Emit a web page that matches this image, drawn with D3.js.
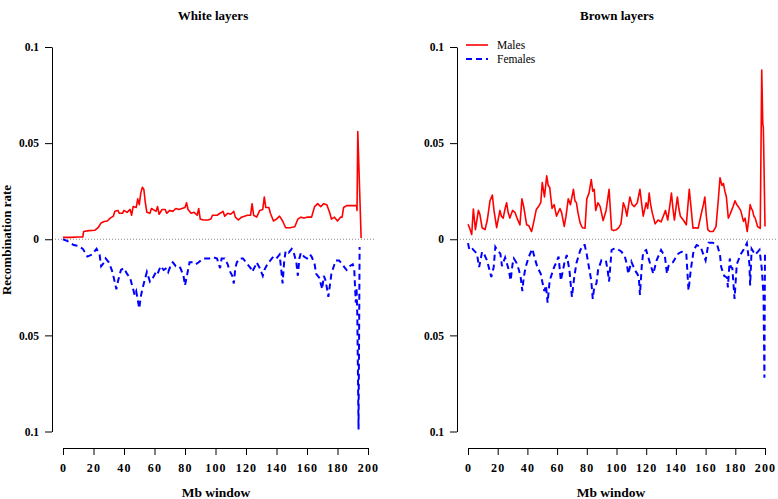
<!DOCTYPE html>
<html>
<head>
<meta charset="utf-8">
<script src="https://cdn.jsdelivr.net/npm/d3@7"></script>
<style>
  html, body { margin: 0; padding: 0; background: #fff; }
  svg { display: block; }
  text { font-family: "Liberation Serif", "DejaVu Serif", serif; }
</style>
</head>
<body>
<svg id="chart" width="778" height="499"></svg>
<script>
// ---- Data: [Mb window, recombination rate] ----
const panelTitles = ["White layers", "Brown layers"];
const seriesNames = ["Males", "Females"];
const xTicks = [0, 20, 40, 60, 80, 100, 120, 140, 160, 180, 200];
const yTicks = [-0.1, -0.05, 0, 0.05, 0.1];

const whiteMales = [
  [0,0.001],[5,0.001],[10,0.0012],[13,0.0012],[13.5,0.004],[17,0.0045],[21,0.0047],[23,0.006],[25,0.0085],[27,0.0092],
  [29,0.0095],[31,0.011],[33,0.012],[34,0.0146],[36,0.015],[37,0.0135],[39,0.0135],[40,0.015],[42,0.014],[44,0.0155],
  [45,0.0125],[46,0.017],[48,0.0165],[49,0.021],[50,0.018],[51,0.024],[52,0.027],[53,0.026],[54,0.019],[55,0.014],
  [57,0.0135],[58,0.016],[60,0.015],[61,0.0145],[62,0.017],[63,0.013],[65,0.0155],[67,0.0155],[68,0.0135],[70,0.015],
  [72,0.0145],[74,0.016],[76,0.0155],[78,0.016],[80,0.0165],[81,0.019],[82,0.0155],[84,0.0135],[86,0.014],[88,0.0125],
  [89,0.016],[90,0.0105],[92,0.010],[95,0.010],[97,0.0105],[98,0.0125],[101,0.0125],[103,0.0135],[105,0.0145],[106,0.012],
  [108,0.0135],[110,0.013],[112,0.0145],[113,0.0115],[115,0.010],[117,0.0115],[119,0.012],[121,0.0125],[123,0.0125],[124,0.0185],
  [125,0.0125],[127,0.0115],[129,0.015],[131,0.0155],[132,0.022],[133,0.0165],[135,0.0165],[136,0.0135],[138,0.0095],[140,0.0105],
  [142,0.012],[144,0.0095],[146,0.006],[149,0.006],[152,0.0065],[154,0.0105],[156,0.0115],[158,0.011],[160,0.0115],[163,0.0115],
  [165,0.017],[167,0.0185],[169,0.017],[171,0.0185],[173,0.018],[175,0.0135],[176,0.0105],[178,0.0115],[180,0.0095],[182,0.0115],
  [183,0.0115],[184,0.0165],[186,0.0175],[189,0.0175],[192.5,0.0175],[192.8,0.015],[193.3,0.056],[195.5,0.0007]
];

const whiteFemales = [
  [0,0],[3,0.001],[7,0.003],[10,0.0035],[13,0.005],[16,0.009],[19,0.008],[22,0.005],[24,0.008],[25,0.014],
  [27,0.012],[28,0.010],[30,0.012],[32,0.016],[33,0.019],[35,0.026],[36,0.022],[38,0.016],[40,0.015],[42,0.018],
  [44,0.020],[45,0.023],[47,0.029],[48,0.027],[50,0.036],[51,0.030],[52,0.026],[54,0.020],[55,0.017],[57,0.022],
  [59,0.020],[61,0.017],[62,0.018],[64,0.014],[66,0.016],[68,0.015],[69,0.017],[71,0.013],[72,0.012],[74,0.014],
  [76,0.014],[77,0.015],[79,0.019],[80,0.024],[81,0.020],[83,0.012],[85,0.012],[87,0.013],[89,0.012],[91,0.0105],
  [93,0.010],[96,0.010],[99,0.0095],[101,0.010],[103,0.015],[104,0.010],[106,0.010],[108,0.013],[109,0.016],[111,0.019],
  [112,0.023],[113,0.015],[114,0.012],[116,0.010],[118,0.010],[120,0.012],[121,0.013],[123,0.015],[124,0.017],[126,0.014],
  [127,0.012],[129,0.015],[131,0.019],[132,0.016],[134,0.013],[135,0.012],[137,0.010],[138,0.009],[140,0.010],[142,0.008],
  [143,0.015],[144,0.023],[145,0.012],[146,0.006],[148,0.007],[150,0.005],[151,0.006],[153,0.012],[154,0.019],[155,0.010],
  [156,0.007],[158,0.009],[160,0.010],[162,0.008],[163,0.009],[165,0.013],[166,0.018],[168,0.020],[170,0.026],[171,0.019],
  [172,0.021],[173,0.025],[174,0.030],[175,0.024],[176,0.018],[178,0.013],[179,0.011],[181,0.011],[183,0.013],[185,0.015],
  [186,0.016],[188,0.014],[190,0.013],[191,0.016],[192,0.033],[192.5,0.025],[193,0.040],[193.8,0.099],[194.5,0.004]
];

const brownMales = [
  [0,0.0078],[1,0.006],[2.5,0.0025],[3.6,0.0157],[5,0.005],[7,0.015],[8,0.013],[9.5,0.006],[11.5,0.005],[13,0.010],
  [14.8,0.020],[16.4,0.023],[17.5,0.015],[19.3,0.006],[21.5,0.015],[22.5,0.012],[23.7,0.011],[25,0.016],[26,0.019],[27,0.014],
  [28.2,0.011],[30,0.015],[31.6,0.014],[33,0.011],[35,0.0075],[36.3,0.021],[37.5,0.017],[39.5,0.0075],[41,0.007],[42.8,0.004],
  [44,0.008],[46,0.0155],[47.5,0.017],[49,0.019],[50,0.0295],[51.5,0.022],[53,0.033],[54,0.028],[55,0.027],[56.6,0.016],
  [58,0.018],[59.6,0.012],[61.9,0.016],[63,0.014],[64.8,0.0067],[66,0.012],[67.5,0.021],[69,0.018],[71,0.026],[72,0.020],
  [73,0.019],[74,0.014],[75.5,0.0085],[77,0.006],[78.8,0.0058],[80,0.021],[81.5,0.024],[83,0.031],[84,0.025],[85,0.026],
  [86,0.015],[87.5,0.019],[89,0.017],[91,0.0097],[93,0.015],[95,0.026],[96.7,0.005],[98,0.0045],[100,0.005],[101.5,0.006],
  [103,0.008],[104.6,0.019],[106,0.016],[107,0.012],[109,0.022],[110.5,0.018],[112,0.017],[114,0.019],[115.8,0.026],[117,0.018],
  [118,0.012],[120,0.019],[121,0.016],[122,0.024],[123,0.018],[124,0.014],[126,0.008],[128,0.010],[130,0.009],[131.5,0.012],
  [133,0.015],[134.5,0.010],[136,0.018],[137,0.024],[138,0.016],[139,0.010],[141,0.022],[142,0.016],[143,0.012],[145,0.010],
  [147,0.0075],[149,0.026],[150,0.018],[151.5,0.0058],[153,0.006],[155,0.0058],[157,0.013],[158.5,0.018],[159.5,0.022],[160.5,0.012],
  [161.5,0.005],[163,0.004],[165,0.004],[167,0.0066],[168.5,0.020],[169.7,0.032],[171,0.028],[172,0.029],[173,0.025],[174,0.022],
  [175.3,0.011],[176.5,0.013],[177.5,0.015],[178.5,0.017],[179.8,0.020],[181,0.018],[182,0.017],[183.6,0.015],[185.5,0.0093],[186.6,0.011],
  [188,0.004],[189,0.010],[190,0.018],[190.8,0.016],[191.6,0.015],[192.5,0.012],[193.4,0.011],[195,0.0066],[196.8,0.0057],[197.8,0.088],
  [198.5,0.060],[198.9,0.058],[200,0.0066]
];

const brownFemales = [
  [0,0.002],[1,0.0057],[3,0.005],[6,0.0075],[7.5,0.0145],[9.5,0.0065],[11,0.008],[12.8,0.011],[15.7,0.0196],[17.3,0.0145],
  [18.4,0.004],[20,0.006],[21.8,0.0075],[22.9,0.014],[25,0.0095],[27.5,0.016],[28.7,0.0215],[30,0.013],[30.9,0.010],[32.5,0.012],
  [34.3,0.016],[35.5,0.020],[36.6,0.027],[37.5,0.020],[38.8,0.0145],[41,0.009],[43.3,0.005],[45,0.010],[46.7,0.0145],[49,0.018],
  [50,0.022],[51.4,0.027],[52.5,0.024],[53.6,0.033],[55,0.0215],[56.5,0.018],[58,0.0145],[59.5,0.012],[61,0.009],[62.5,0.0215],
  [64,0.016],[65,0.012],[66.5,0.0082],[68.3,0.016],[69,0.022],[70,0.030],[71.5,0.020],[73,0.0125],[75.6,0.0057],[77.5,0.003],
  [78.6,0.003],[80,0.008],[81,0.0126],[83,0.0215],[84,0.031],[85,0.025],[86.5,0.023],[87.6,0.016],[89.8,0.011],[91.5,0.012],
  [93,0.0117],[94,0.016],[95,0.022],[96.7,0.0056],[98,0.005],[100,0.0047],[103.4,0.0065],[105.6,0.009],[107,0.013],[107.9,0.018],
  [110,0.0117],[112.3,0.016],[114,0.018],[115,0.0196],[115.8,0.029],[117,0.014],[118,0.0065],[120,0.0056],[122.6,0.0126],[124.8,0.018],
  [126,0.014],[127,0.011],[130,0.0056],[132.6,0.009],[134,0.018],[135,0.014],[136.5,0.0126],[138,0.012],[139.5,0.010],[141.6,0.0075],
  [143.8,0.0065],[145.5,0.007],[147,0.0075],[148.5,0.0267],[150,0.016],[152,0.0056],[154,0.003],[156.7,0.004],[158.5,0.008],[160,0.011],
  [162,0.0018],[164.8,0.0018],[167.8,0.003],[169.7,0.008],[170.5,0.0145],[172.5,0.019],[174.5,0.020],[175,0.025],[176.3,0.010],[177,0.0145],
  [178,0.015],[179.5,0.031],[181,0.013],[183.5,0.008],[185.5,0.0055],[187.8,0.002],[189.5,0.013],[190,0.024],[191,0.005],[193.4,0.008],
  [196.3,0.0055],[197.8,0.015],[199,0.029],[199.6,0.072],[200,0.006]
];

// ---- Layout ----
const svg = d3.select("#chart");
const FONT = '"Liberation Serif", "DejaVu Serif", serif';
const panels = [
  { title: panelTitles[0], males: whiteMales, females: whiteFemales,
    axisX: 52, x0: 63, x1: 368, lineEnd: 375, titleX: 213, labelX: 216, legend: false },
  { title: panelTitles[1], males: brownMales, females: brownFemales,
    axisX: 457, x0: 468, x1: 765, lineEnd: 778, titleX: 617, labelX: 611, legend: true }
];
const yTop = 47, yBottom = 431.5, xAxisY = 448;

panels.forEach(p => {
  const x = d3.scaleLinear().domain([0, 200]).range([p.x0, p.x1]);
  const y = d3.scaleLinear().domain([-0.1, 0.1]).range([yBottom, yTop]);
  const g = svg.append("g");

  // zero reference line
  g.append("line")
    .attr("x1", p.axisX).attr("x2", p.lineEnd)
    .attr("y1", y(0)).attr("y2", y(0))
    .attr("stroke", "#888").attr("stroke-width", 1)
    .attr("stroke-dasharray", "1,2");

  // y axis
  const yAxis = d3.axisLeft(y).tickValues(yTicks)
    .tickFormat(d => d === 0 ? "0" : String(Math.abs(d)))
    .tickSize(7).tickSizeOuter(0).tickPadding(6);
  const ya = g.append("g").attr("transform", `translate(${p.axisX},0)`).call(yAxis);
  ya.select(".domain").attr("stroke", "#000");
  ya.selectAll("text").attr("font-family", FONT).attr("font-weight", "bold")
    .attr("font-size", "11.5px").attr("fill", "#000");

  // x axis
  const xAxis = d3.axisBottom(x).tickValues(xTicks).tickFormat(d3.format("d"))
    .tickSize(7).tickSizeOuter(0).tickPadding(8);
  const xa = g.append("g").attr("transform", `translate(0,${xAxisY})`).call(xAxis);
  xa.selectAll("text").attr("font-family", FONT).attr("font-weight", "bold")
    .attr("font-size", "12px").attr("letter-spacing", "1.2px").attr("fill", "#000");

  const line = d3.line().x(d => x(d[0])).y(d => y(d[1]));
  const lineNeg = d3.line().x(d => x(d[0])).y(d => y(-d[1]));

  g.append("path").datum(p.females).attr("d", lineNeg)
    .attr("fill", "none").attr("stroke", "#0000ff").attr("stroke-width", 2)
    .attr("stroke-dasharray", "6,4");
  g.append("path").datum(p.males).attr("d", line)
    .attr("fill", "none").attr("stroke", "#ff0000").attr("stroke-width", 1.6)
    .attr("stroke-linejoin", "round");

  // title
  g.append("text").attr("x", p.titleX).attr("y", 20).attr("text-anchor", "middle")
    .attr("font-family", FONT).attr("font-weight", "bold").attr("font-size", "13px")
    .text(p.title);
  // x label
  g.append("text").attr("x", p.labelX).attr("y", 497).attr("text-anchor", "middle")
    .attr("font-family", FONT).attr("font-weight", "bold").attr("font-size", "13.5px")
    .text("Mb window");

  if (p.legend) {
    const lg = svg.append("g");
    lg.append("line").attr("x1", 466).attr("x2", 488).attr("y1", 45).attr("y2", 45)
      .attr("stroke", "#ff0000").attr("stroke-width", 1.6);
    lg.append("line").attr("x1", 466).attr("x2", 488).attr("y1", 59).attr("y2", 59)
      .attr("stroke", "#0000ff").attr("stroke-width", 2).attr("stroke-dasharray", "6,4");
    lg.append("text").attr("x", 497).attr("y", 49).attr("font-family", FONT)
      .attr("font-size", "11.5px").text(seriesNames[0]);
    lg.append("text").attr("x", 497).attr("y", 63).attr("font-family", FONT)
      .attr("font-size", "11.5px").text(seriesNames[1]);
  }
});

// y-axis label
svg.append("text")
  .attr("transform", "translate(11,240) rotate(-90)")
  .attr("text-anchor", "middle")
  .attr("font-family", FONT).attr("font-weight", "bold").attr("font-size", "13px")
  .text("Recombination rate");
</script>
</body>
</html>
